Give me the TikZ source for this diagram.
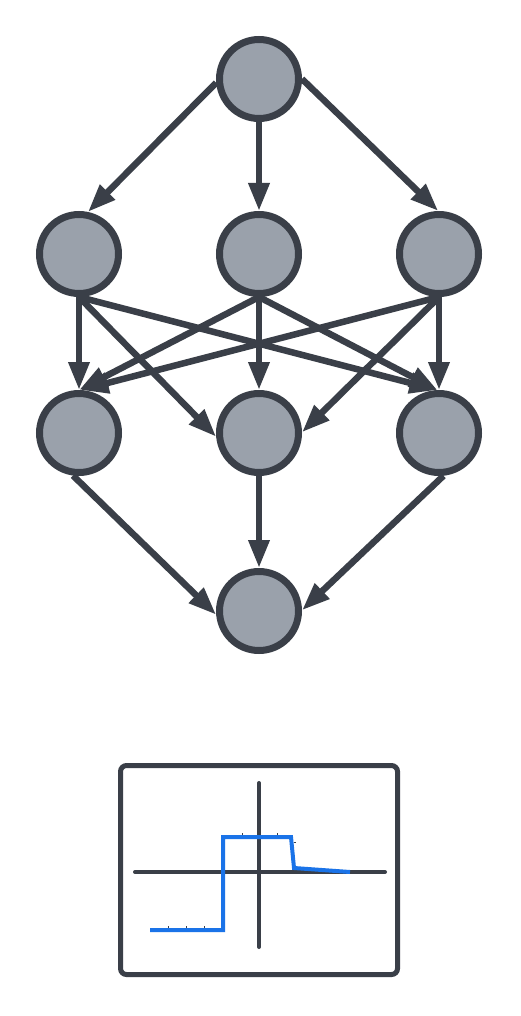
\documentclass[tikz,border=0pt]{standalone}
\usetikzlibrary{arrows.meta}
\definecolor{ink}{HTML}{3A3F48}
\definecolor{nodefill}{HTML}{9AA1AB}
\definecolor{curve}{HTML}{1A73E8}
\begin{document}
\begin{tikzpicture}[x=1pt,y=-1pt,
  unit/.style={circle, draw=ink, fill=nodefill, line width=7pt, minimum size=79pt, inner sep=0pt},
  link/.style={draw=ink, line width=6.5pt, -{Triangle[length=28pt,width=20pt]}},
  axis/.style={draw=ink, line width=4pt, line cap=round},
  tick/.style={draw=ink, line width=0.8pt},
]
\fill[white] (0,0) rectangle (520,1016);
\useasboundingbox (0,0) rectangle (520,1016);

% network nodes
\node[unit] (t)  at (259,79)  {};
\node[unit] (a1) at (79,254)  {};
\node[unit] (a2) at (259,254) {};
\node[unit] (a3) at (439,254) {};
\node[unit] (b1) at (79,433)  {};
\node[unit] (b2) at (259,433) {};
\node[unit] (b3) at (439,433) {};
\node[unit] (o)  at (259,611) {};

% top -> first layer
\draw[link] (t.185) -- (a1.78);
\draw[link] (t.270) -- (a2.90);
\draw[link] (t.0)   -- (a3.91);

% first layer -> second layer
\draw[link] (a1.270) -- (b1.90);
\draw[link] (a1.270) -- (b2.185);
\draw[link] (a1.270) -- (b3.92);
\draw[link] (a2.270) -- (b1.90);
\draw[link] (a2.270) -- (b2.90);
\draw[link] (a2.270) -- (b3.92);
\draw[link] (a3.270) -- (b1.88);
\draw[link] (a3.270) -- (b2.1);
\draw[link] (a3.270) -- (b3.90);

% second layer -> output
\draw[link] (b1.262) -- (o.185);
\draw[link] (b2.270) -- (o.90);
\draw[link] (b3.276) -- (o.1);

% step response panel
\node[draw=ink, line width=5pt, rounded corners=6pt, minimum width=277pt,
      minimum height=209pt, inner sep=0pt] (panel) at (259,870) {};
\draw[axis] (135,872) -- (385,872);
\draw[axis] (259,783) -- (259,947);
\draw[curve, line width=4pt, line join=miter]
  (150,930) -- (223,930) -- (223,837) -- (291,837) -- (294,868) -- (350,872);
\foreach \x in {168,186,204} \draw[tick] (\x,928) -- (\x,926);
\foreach \x in {242,277} \draw[tick] (\x,835) -- (\x,833);
\draw[tick] (294,842) -- (296,842);
\end{tikzpicture}
\end{document}
